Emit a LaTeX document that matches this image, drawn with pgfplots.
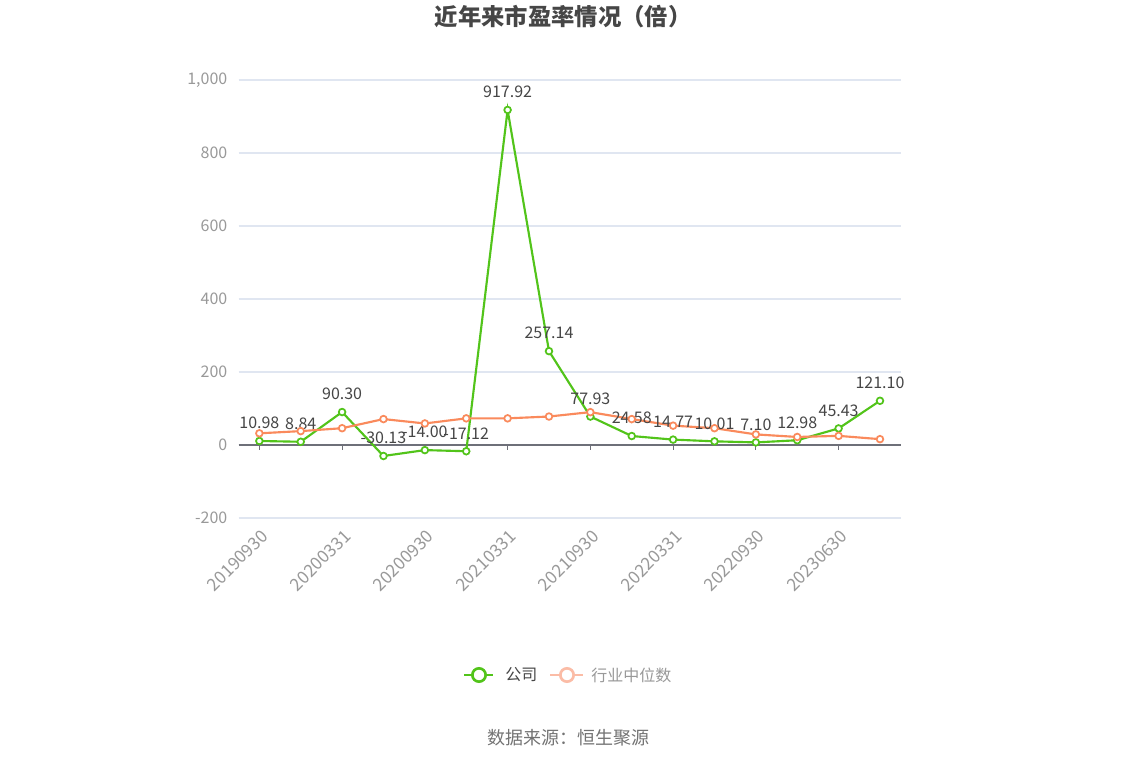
\documentclass[border=0pt]{standalone}
\usepackage{pgfplots}
\usepackage{pgfplotstable}
\pgfplotsset{compat=1.18}
\usepackage{fontspec}
\setmainfont{Noto Sans CJK SC}

\definecolor{gco}{HTML}{52C41A}
\definecolor{oind}{HTML}{FA8A5C}
\definecolor{olight}{HTML}{FBBCA6}
\definecolor{gridc}{HTML}{E0E6F1}
\definecolor{axisc}{HTML}{6E7079}
\definecolor{tickc}{HTML}{999999}
\definecolor{labc}{HTML}{464646}

% PE of the company and industry median
\pgfplotstableread{
x pe ind
0 10.98 32
1 8.84 38
2 90.30 46
3 -30.13 71
4 -14.00 59
5 -17.12 73
6 917.92 73
7 257.14 78
8 77.93 90
9 24.58 71
10 14.77 53
11 10.01 46
12 7.10 29
13 12.98 22
14 45.43 25
15 121.10 16
}\petable

\begin{document}
\begin{tikzpicture}[x=0.75pt,y=0.75pt]
\fill[white] (0,0) rectangle (1134,766);
\useasboundingbox (0,0) rectangle (1134,766);

\begin{axis}[
    at={(179pt,186pt)}, anchor=south west,
    scale only axis,
    width=496.5pt, height=328.5pt,
    xmin=-0.5, xmax=15.5,
    ymin=-200, ymax=1000,
    ytick={-200,0,200,400,600,800,1000},
    xtick={0,2,...,14},
    xticklabels={20190930,20200331,20200930,20210331,20210930,20220331,20220930,20230630},
    axis line style={draw=none},
    tick style={draw=none},
    ymajorgrids,
    grid style={color=gridc, line width=0.8pt},
    /pgf/number format/assume math mode=true,
    /pgf/number format/1000 sep={,},
    ticklabel style={text=tickc},
    yticklabel style={font=\fontsize{12}{12}\selectfont, xshift=-5pt},
    xticklabel style={font=\fontsize{13}{13}\selectfont, rotate=45, anchor=east,
        inner sep=0pt, xshift=-5pt, yshift=-11pt},
    clip=false,
]
\draw[color=axisc, line width=1pt] (axis cs:-0.5,0) -- (axis cs:15.5,0);
\pgfplotsinvokeforeach{0,2,...,14}{
  \draw[color=axisc, line width=0.8pt] (axis cs:#1,0) -- ++(0pt,-4pt);
}

\addplot[color=gco, line width=1.6pt, mark=*,
    mark options={fill=white, draw=gco, line width=1.3pt}, mark size=2.5pt,
    nodes near coords={\pgfmathprintnumber[fixed,fixed zerofill,precision=2]{\pgfplotspointmeta}},
    every node near coord/.append style={font=\fontsize{12}{12}\selectfont, text=labc, anchor=south, yshift=5pt}]
    table[x=x, y=pe] {\petable};

\addplot[color=oind, line width=1.6pt, mark=*,
    mark options={fill=white, draw=oind, line width=1.3pt}, mark size=2.5pt]
    table[x=x, y=ind] {\petable};
\end{axis}

% title
\node[font=\fontsize{17.5}{17.5}\selectfont\bfseries, text=labc] at (563,749) {近年来市盈率情况（倍）};

% legend
\draw[color=gco, line width=2pt] (464,91) -- (493,91);
\draw[color=gco, line width=2pt, fill=white] (479,91) circle[radius=5pt];
\node[anchor=west, inner sep=0pt, font=\fontsize{12}{12}\selectfont, text=labc] at (505,91) {公司};
\draw[color=olight, line width=2pt] (550,91) -- (583,91);
\draw[color=olight, line width=2pt, fill=white] (567,91) circle[radius=5pt];
\node[anchor=west, inner sep=0pt, font=\fontsize{12}{12}\selectfont, text=tickc] at (591,91) {行业中位数};

% source
\node[font=\fontsize{13.5}{13.5}\selectfont, text=gray!90!black] at (568,28) {数据来源：恒生聚源};
\end{tikzpicture}
\end{document}
